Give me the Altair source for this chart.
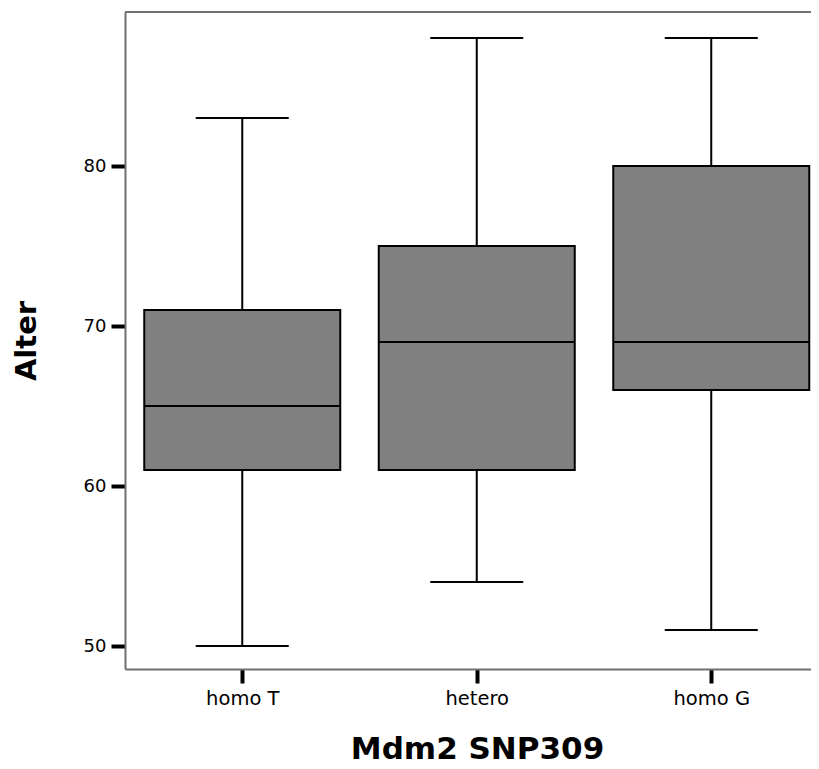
import altair as alt
import pandas as pd

categories = ["homo T", "hetero", "homo G"]
whisker_low = [50, 54, 51]
q1 = [61, 61, 66]
median = [65, 69, 69]
q3 = [71, 75, 80]
whisker_high = [83, 88, 88]

df = pd.DataFrame({
    "idx": list(range(len(categories))),
    "cat": categories,
    "lo": whisker_low,
    "q1": q1,
    "med": median,
    "q3": q3,
    "hi": whisker_high,
})

STEP = 234.5
BOX_HALF = 98 / STEP
CAP_HALF = 46.5 / STEP
W, H = 686, 657
FONT = "DejaVu Sans"

xscale = alt.Scale(domain=[-0.5, -0.5 + W / STEP], nice=False, zero=False)
yscale = alt.Scale(domain=[48.5625, 89.625], nice=False, zero=False)

label_expr = "datum.value == 0 ? 'homo T' : datum.value == 1 ? 'hetero' : 'homo G'"

xaxis = alt.Axis(orient="bottom", values=[0, 1, 2], labelExpr=label_expr, title="Mdm2 SNP309",
                 grid=False, domainColor="#707070", domainWidth=2,
                 tickColor="black", tickWidth=4, tickSize=14,
                 labelFont=FONT, labelFontSize=19.5, labelColor="black",
                 labelPadding=6,
                 titleFont=FONT, titleFontSize=31, titleFontWeight="bold",
                 titleColor="black", titleX=352, titleY=80, titleBaseline="middle")
yaxis = alt.Axis(orient="left", values=[50, 60, 70, 80], title="Alter", grid=False,
                 domainColor="#707070", domainWidth=2,
                 tickColor="black", tickWidth=4, tickSize=14,
                 labelFont=FONT, labelFontSize=18, labelColor="black",
                 labelPadding=5,
                 titleFont=FONT, titleFontSize=29, titleFontWeight="bold",
                 titleColor="black", titleX=-99, titleBaseline="middle")

base = alt.Chart(df).transform_calculate(
    box_lo=f"datum.idx - {BOX_HALF}",
    box_hi=f"datum.idx + {BOX_HALF}",
    cap_lo=f"datum.idx - {CAP_HALF}",
    cap_hi=f"datum.idx + {CAP_HALF}",
)

whisker = base.mark_rule(color="black", strokeWidth=2).encode(
    x=alt.X("idx:Q", scale=xscale, axis=xaxis),
    y=alt.Y("lo:Q", scale=yscale, axis=yaxis),
    y2="hi:Q",
)

cap_lo = base.mark_rule(color="black", strokeWidth=2).encode(
    x=alt.X("cap_lo:Q", scale=xscale, axis=xaxis),
    x2="cap_hi:Q",
    y=alt.Y("lo:Q", scale=yscale, axis=yaxis),
)
cap_hi = base.mark_rule(color="black", strokeWidth=2).encode(
    x=alt.X("cap_lo:Q", scale=xscale, axis=xaxis),
    x2="cap_hi:Q",
    y=alt.Y("hi:Q", scale=yscale, axis=yaxis),
)

box = base.mark_rect(fill="#808080", stroke="black", strokeWidth=2).encode(
    x=alt.X("box_lo:Q", scale=xscale, axis=xaxis),
    x2="box_hi:Q",
    y=alt.Y("q1:Q", scale=yscale, axis=yaxis),
    y2="q3:Q",
)

med = base.mark_rule(color="black", strokeWidth=2).encode(
    x=alt.X("box_lo:Q", scale=xscale, axis=xaxis),
    x2="box_hi:Q",
    y=alt.Y("med:Q", scale=yscale, axis=yaxis),
)

top_line = alt.Chart(df).mark_rule(color="#707070", strokeWidth=2).encode(
    x=alt.value(0), x2=alt.value(W), y=alt.value(0)
)

chart = alt.layer(whisker, cap_lo, cap_hi, box, med, top_line).properties(
    width=W, height=H,
    autosize=alt.AutoSizeParams(type="none"),
    padding={"left": 117, "top": 4, "right": 0, "bottom": 96},
    background="white",
).configure_view(stroke="transparent")

chart.save("out.html", embed_options={"renderer": "svg", "actions": False})
